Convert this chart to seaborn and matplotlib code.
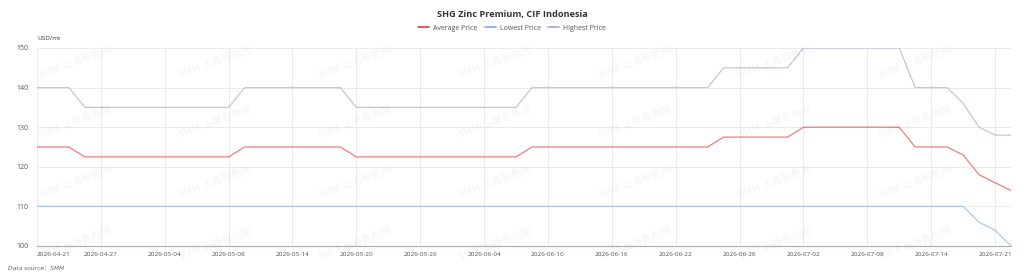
import matplotlib
matplotlib.use("Agg")
import matplotlib.pyplot as plt
from matplotlib.lines import Line2D
import seaborn as sns
import pandas as pd

dates = [
    "2026-04-21", "2026-04-22", "2026-04-23", "2026-04-24", "2026-04-27",
    "2026-04-28", "2026-04-29", "2026-04-30", "2026-05-04", "2026-05-05",
    "2026-05-06", "2026-05-07", "2026-05-08", "2026-05-11", "2026-05-12",
    "2026-05-13", "2026-05-14", "2026-05-15", "2026-05-18", "2026-05-19",
    "2026-05-20", "2026-05-21", "2026-05-22", "2026-05-25", "2026-05-26",
    "2026-05-27", "2026-05-29", "2026-06-02", "2026-06-04", "2026-06-05",
    "2026-06-08", "2026-06-09", "2026-06-10", "2026-06-11", "2026-06-12",
    "2026-06-15", "2026-06-16", "2026-06-17", "2026-06-18", "2026-06-19",
    "2026-06-22", "2026-06-23", "2026-06-24", "2026-06-25", "2026-06-26",
    "2026-06-29", "2026-06-30", "2026-07-01", "2026-07-02", "2026-07-03",
    "2026-07-06", "2026-07-07", "2026-07-08", "2026-07-09", "2026-07-10",
    "2026-07-13", "2026-07-14", "2026-07-15", "2026-07-16", "2026-07-17",
    "2026-07-21", "2026-07-22",
]

highest = ([140] * 3 + [135] * 10 + [140] * 7 + [135] * 11 + [140] * 12
           + [145] * 5 + [150] * 7 + [140] * 3 + [136, 130, 128, 128])
lowest = [110] * 59 + [106, 104, 100]
average = ([125] * 3 + [122.5] * 10 + [125] * 7 + [122.5] * 11 + [125] * 12
           + [127.5] * 5 + [130] * 7 + [125] * 3 + [123, 118, 116, 114])

series_names = ["Average Price", "Lowest Price", "Highest Price"]
yticks = [100, 110, 120, 130, 140, 150]

colors = {"Average Price": "#e23b36", "Lowest Price": "#7fa9ea", "Highest Price": "#b89ccf"}

sns.set_style("white")
plt.rcParams["font.family"] = ["Open Sans", "DejaVu Sans", "Noto Sans CJK SC"]

fig = plt.figure(figsize=(10.24, 2.77), dpi=100)
ax = fig.add_axes([37 / 1024, 1 - 246 / 277, (1011 - 37) / 1024, (246 - 48) / 277])

# watermarks
for yy in [62, 122, 182, 244]:
    for xx in range(37, 960, 140):
        fig.text(xx / 1024, 1 - yy / 277, "SMM 上海有色网", rotation=20,
                 fontsize=7.5, color="#000000", alpha=0.05,
                 family=["Noto Sans CJK SC"], ha="left", va="center", zorder=0)

idx = list(range(len(dates)))
df = pd.DataFrame({
    "idx": idx * 3,
    "value": average + lowest + highest,
    "series": [series_names[0]] * len(dates) + [series_names[1]] * len(dates)
              + [series_names[2]] * len(dates),
})

sns.lineplot(data=df, x="idx", y="value", hue="series", palette=colors,
             linewidth=0.9, alpha=0.65, ax=ax, legend=False, zorder=3)

ax.set_xlim(0, len(dates) - 1)
ax.set_ylim(100, 150)
ax.set_yticks(yticks)
ax.set_yticklabels([str(v) for v in yticks])
xt = list(range(0, len(dates), 4))
ax.set_xticks(xt)
ax.set_xticklabels([dates[i] for i in xt])
ax.tick_params(axis="both", length=0, labelcolor="#555555")
ax.tick_params(axis="x", pad=4, labelsize=4.6)
ax.tick_params(axis="y", pad=6, labelsize=5)
ax.get_xticklabels()[0].set_ha("left")
ax.set_xlabel("")
ax.set_ylabel("")
ax.grid(True, color="#ebebeb", linewidth=0.7)
ax.set_axisbelow(True)
for s in ["top", "left", "right"]:
    ax.spines[s].set_visible(False)
ax.spines["bottom"].set_color("#b0b0b8")
ax.spines["bottom"].set_linewidth(0.9)
ax.axvline(len(dates) - 1, color="#ebebeb", linewidth=0.7, zorder=1)

fig.text(0.5, 1 - 15 / 277, "SHG Zinc Premium, CIF Indonesia", ha="center", va="center",
         fontsize=6.6, fontweight="bold", color="#333333", family=["Open Sans", "DejaVu Sans"])

handles = [Line2D([0], [0], color=colors[n], linewidth=1.2) for n in series_names]
fig.legend(handles, series_names, loc="center", bbox_to_anchor=(0.5, 1 - 28 / 277),
           ncol=3, frameon=False, fontsize=5, handlelength=1.6, handletextpad=0.6,
           columnspacing=1.0, labelcolor="#555555")

fig.text(37 / 1024, 1 - 38 / 277, "USD/mt", ha="left", va="center", fontsize=4.6,
         color="#333333")
fig.text(8 / 1024, 1 - 268 / 277, "Data source：SMM", ha="left", va="center",
         fontsize=4.3, color="#666666", style="italic",
         family=["DejaVu Sans", "Noto Sans CJK SC"])

fig.savefig("out.png", dpi=100)
